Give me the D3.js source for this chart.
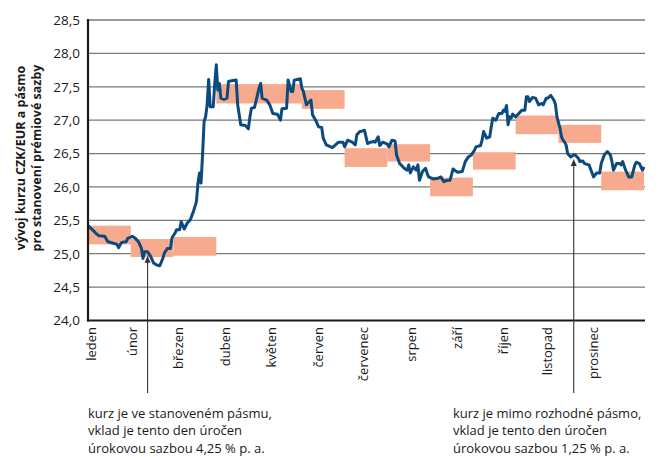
<!DOCTYPE html>
<html><head><meta charset="utf-8">
<script src="https://cdn.jsdelivr.net/npm/d3@7"></script>
<style>
html,body{margin:0;padding:0;background:#fff;}
svg{display:block;}
text{font-family:"Open Sans",sans-serif;fill:#1a1a1a;}
</style></head>
<body>
<svg id="chart" width="659" height="457"></svg>
<script>
// ---- DATA ----
const monthLabels = ["leden","únor","březen","duben","květen","červen","červenec","srpen","září","říjen","listopad","prosinec"];
const monthTickDays = [2, 29, 59, 90, 120, 151, 180, 212, 242, 272, 301, 331];
const yTicks = [24.0, 24.5, 25.0, 25.5, 26.0, 26.5, 27.0, 27.5, 28.0, 28.5];
// 13 four-week periods: band for premium rate
const bandLow  = [25.14, 24.95, 24.97, 27.25, 27.25, 27.17, 26.30, 26.38, 25.86, 26.26, 26.79, 26.66, 25.95];
const bandHigh = [25.42, 25.22, 25.25, 27.54, 27.54, 27.45, 26.58, 26.64, 26.14, 26.52, 27.07, 26.93, 26.23];
const periodDays = 28;
// CZK/EUR rate: day of year, value
const rateDays = [0,2,5,7,11,13,16,19,20,22,25,26,29,31,33,35,36,37,39,41,43,45,47,49,50,52,54,55,57,58,60,61,63,65,67,69,71,72,73,74,75,76,77,78,79,80,82,83,84,85,86,87,89,91,92,94,97,98,100,103,105,106,107,109,112,113,114,117,119,121,
124,126,127,130,131,133,134,135,139,140,141,143,145,146,147,149,151,153,154,156,160,162,164,167,168,170,173,175,176,178,180,181,183,185,187,188,190,191,193,196,197,199,201,202,204,205,207,209,210,211,213,215,216,217,219,221,222,223,226,229,231,233,235,237,239,240,
242,245,247,249,251,253,254,257,258,259,261,263,264,265,267,269,271,272,273,274,275,276,277,278,280,282,284,286,287,288,289,291,293,294,295,297,298,300,301,303,305,306,307,309,310,311,312,313,314,316,318,319,321,322,324,325,328,330,331,333,335,336,338,340,342,343,344,346,348,349,350,352,354,356,358,359,361,363,364];
const rateValues = [25.42,25.38,25.31,25.27,25.26,25.18,25.16,25.14,25.09,25.17,25.18,25.23,25.26,25.23,25.18,25.08,24.93,25.03,25.03,24.96,24.86,24.83,24.82,24.93,25.01,25.08,25.08,25.24,25.31,25.36,25.36,25.48,25.37,25.46,25.51,25.63,25.78,26.06,26.21,26.06,26.48,26.98,27.05,27.23,27.61,27.20,27.20,27.55,27.83,27.45,27.55,27.33,27.31,27.33,27.58,27.59,27.60,27.23,26.93,26.92,26.87,27.05,27.18,27.19,27.48,27.55,27.33,27.30,27.23,27.10,
27.09,27.00,27.17,27.18,27.60,27.43,27.43,27.60,27.62,27.48,27.43,27.23,27.28,27.30,27.08,27.00,26.90,26.89,26.73,26.63,26.59,26.63,26.67,26.67,26.60,26.70,26.67,26.63,26.78,26.83,26.84,26.85,26.65,26.67,26.68,26.67,26.75,26.62,26.67,26.64,26.60,26.70,26.69,26.48,26.35,26.33,26.28,26.25,26.33,26.21,26.30,26.25,26.33,26.10,26.23,26.28,26.21,26.15,26.12,26.13,26.15,26.08,26.10,26.10,26.27,26.25,
26.22,26.23,26.38,26.45,26.48,26.55,26.60,26.62,26.70,26.83,26.73,26.75,26.90,27.03,27.00,27.10,27.10,27.15,27.13,27.22,26.93,27.05,27.03,27.09,27.05,27.10,27.15,27.15,27.35,27.35,27.28,27.34,27.33,27.28,27.23,27.25,27.23,27.33,27.33,27.37,27.30,27.24,27.05,26.88,26.75,26.70,26.67,26.63,26.50,26.45,26.48,26.48,26.43,26.38,26.39,26.35,26.33,26.21,26.15,26.21,26.21,26.35,26.48,26.53,26.48,26.38,26.25,26.35,26.35,26.33,26.38,26.25,26.15,26.15,26.33,26.37,26.35,26.25,26.30];
const yTitle = ["vývoj kurzu CZK/EUR a pásmo", "pro stanovení prémiové sazby"];
const annotDays = [39, 318];
const annotTexts = [
  ["kurz je ve stanoveném pásmu,", "vklad je tento den úročen", "úrokovou sazbou 4,25 % p. a."],
  ["kurz je mimo rozhodné pásmo,", "vklad je tento den úročen", "úrokovou sazbou 1,25 % p. a."]
];

// ---- CHART ----
const svg = d3.select("#chart");
const L = 88, R = 645, T = 20, B = 320.5;
const x = d3.scaleLinear().domain([0, 364]).range([L, 644]);
const y = d3.scaleLinear().domain([24, 28.5]).range([B, T]);
const fmt = v => d3.format(".1f")(v).replace(".", ",");

// gridlines
svg.append("g").selectAll("line").data(yTicks.filter(v => v > 24)).join("line")
  .attr("x1", L).attr("x2", R).attr("y1", d => y(d)).attr("y2", d => y(d))
  .attr("stroke", "#7a7a7a").attr("stroke-width", 1.3);

// bands
svg.append("g").selectAll("rect").data(bandLow.map((lo, i) => ({i, lo, hi: bandHigh[i]}))).join("rect")
  .attr("x", d => x(d.i * periodDays)).attr("width", d => x((d.i + 1) * periodDays) - x(d.i * periodDays))
  .attr("y", d => y(d.hi)).attr("height", d => y(d.lo) - y(d.hi))
  .attr("fill", "#f7aa8e");

// rate line
const pts = rateDays.map((d, i) => [d, rateValues[i]]);
svg.append("path").datum(pts)
  .attr("d", d3.line().x(d => x(d[0])).y(d => y(d[1])))
  .attr("fill", "none").attr("stroke", "#0b4a7e").attr("stroke-width", 3)
  .attr("stroke-linejoin", "round");

// y axis
const yAxis = d3.axisLeft(y).tickValues(yTicks).tickFormat(fmt).tickSize(0).tickPadding(8);
const gy = svg.append("g").attr("transform", `translate(${L},0)`).call(yAxis);
gy.select(".domain").remove();
gy.selectAll("text").attr("font-family", "'Open Sans', sans-serif").attr("font-size", 13.5).attr("fill", "#1a1a1a");

// axis lines
svg.append("line").attr("x1", L).attr("x2", L).attr("y1", T - 1).attr("y2", B + 1)
  .attr("stroke", "#1a1a1a").attr("stroke-width", 2.2);
svg.append("line").attr("x1", L - 1).attr("x2", R).attr("y1", B).attr("y2", B)
  .attr("stroke", "#1a1a1a").attr("stroke-width", 2.2);

// month labels
svg.append("g").selectAll("text").data(monthLabels).join("text")
  .attr("transform", (d, i) => `translate(${x(monthTickDays[i])},327) rotate(-90)`)
  .attr("text-anchor", "end").attr("dy", "0.35em")
  .attr("font-size", 13).text(d => d);

// y title
svg.append("g").selectAll("text").data(yTitle).join("text")
  .attr("transform", (d, i) => `translate(${25 + i * 15.5},158) rotate(-90)`)
  .attr("text-anchor", "middle").attr("font-size", 12.5).attr("font-weight", "bold").text(d => d);

// annotations
const valAt = d => pts.reduce((a, b) => Math.abs(b[0] - d) < Math.abs(a[0] - d) ? b : a)[1];
annotDays.forEach((d, k) => {
  const ax = x(d), tip = y(valAt(d)) + 4;
  svg.append("line").attr("x1", ax).attr("x2", ax).attr("y1", tip + 4).attr("y2", 393)
    .attr("stroke", "#333").attr("stroke-width", 1.1);
  svg.append("path").attr("d", `M${ax},${tip} L${ax - 3},${tip + 7} L${ax + 3},${tip + 7} Z`).attr("fill", "#333");
});
const tx = [88, 453];
annotTexts.forEach((lines, k) => {
  svg.append("g").selectAll("text").data(lines).join("text")
    .attr("x", tx[k]).attr("y", (d, i) => 417.5 + i * 17.7)
    .attr("font-size", 13).text(d => d);
});
</script>
</body></html>
